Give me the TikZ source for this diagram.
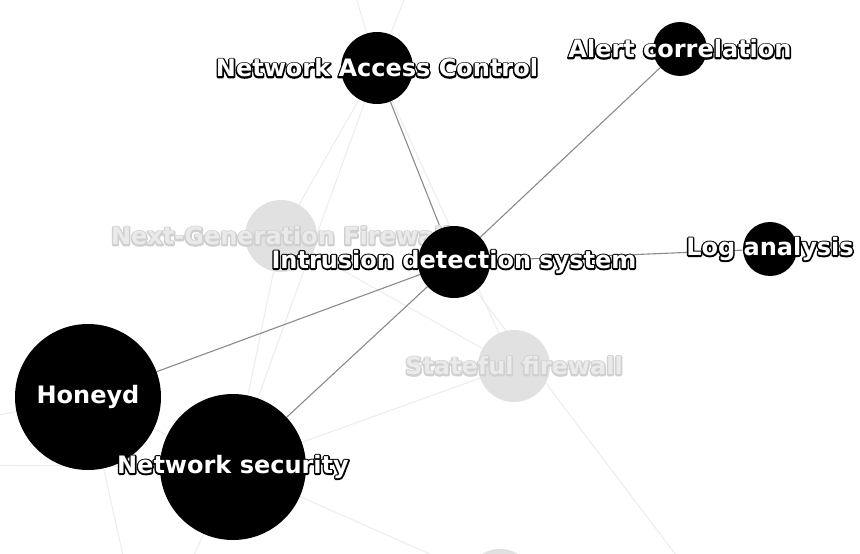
\documentclass[tikz,border=0pt]{standalone}
\usepackage{fontspec}
\setmainfont{DejaVu Sans}
\usetikzlibrary{positioning, backgrounds}
\definecolor{fadefill}{HTML}{E1E1E1}
\definecolor{fadetext}{HTML}{EAEAEA}
\definecolor{fadeline}{HTML}{D0D0D0}
\definecolor{faintedge}{HTML}{EDEDED}
\definecolor{darkedge}{HTML}{8A8A8A}
% outlined text: a stroked copy (render mode 1) under a filled one
\newcommand{\toplbl}[1]{\rlap{\special{pdf:code 0 G 3 w 1 j 1 Tr}#1\special{pdf:code 0 Tr}}{\color{white}#1}}
\newcommand{\fadelbl}[1]{\rlap{\special{pdf:code 0.816 G 3 w 1 j 1 Tr}#1\special{pdf:code 0 Tr}}{\color{fadetext}#1}}

\begin{document}
\begin{tikzpicture}[x=1pt, y=-1pt,
    bignode/.style={circle, fill=black, minimum size=146pt, inner sep=0pt},
    hubnode/.style={circle, fill=black, minimum size=72pt, inner sep=0pt},
    leafnode/.style={circle, fill=black, minimum size=54pt, inner sep=0pt},
    fadenode/.style={circle, fill=fadefill, minimum size=72pt, inner sep=0pt},
    lbl/.style={font=\fontsize{24}{26}\selectfont\bfseries, inner sep=0pt},
    link/.style={darkedge, line width=1.1pt},
    ghost/.style={faintedge, line width=1.1pt}]
  \useasboundingbox (0,0) rectangle (860,554);

  % faded neighbours first, so their labels sit underneath
  \node[fadenode, label={[lbl]center:\fadelbl{Next-Generation Firewall}}] (ngf) at (281,236) {};
  \node[fadenode, label={[lbl]center:\fadelbl{Stateful firewall}}] (sfw) at (514,366) {};
  \node[fadenode] (low) at (500,585) {};

  \node[hubnode, label={[lbl]center:\toplbl{Network Access Control}}] (nac) at (377,68) {};
  \node[leafnode, label={[lbl]center:\toplbl{Alert correlation}}] (alert) at (680,49) {};
  \node[hubnode, label={[lbl]center:\toplbl{Intrusion detection system}}] (ids) at (454,262) {};
  \node[leafnode, label={[lbl]center:\toplbl{Log analysis}}] (logs) at (770,249) {};
  \node[bignode, label={[lbl]center:\toplbl{Honeyd}}] (honeyd) at (88,397) {};
  \node[bignode, label={[lbl]center:\toplbl{Network security}}] (netsec) at (233,467) {};

  % neighbours outside the frame
  \coordinate (upleft) at (345,-40);
  \coordinate (upright) at (420,-40);
  \coordinate (downright) at (710,600);
  \coordinate (leftA) at (-40,465);
  \coordinate (leftB) at (-40,423);
  \coordinate (downA) at (135,610);
  \coordinate (downB) at (170,610);

  \begin{pgfonlayer}{background}
    \clip (0,0) rectangle (860,554);
    \draw[ghost] (nac) -- (upleft);
    \draw[ghost] (nac) -- (upright);
    \draw[ghost] (nac) -- (ngf);
    \draw[ghost] (nac) -- (netsec);
    \draw[ghost] (nac) -- (sfw);
    \draw[ghost] (ngf) -- (netsec);
    \draw[ghost] (ngf) -- (sfw);
    \draw[ghost] (netsec) -- (sfw);
    \draw[ghost] (netsec) -- (low);
    \draw[ghost] (netsec) -- (leftA);
    \draw[ghost] (netsec) -- (downB);
    \draw[ghost] (honeyd) -- (leftB);
    \draw[ghost] (honeyd) -- (downA);
    \draw[ghost] (honeyd) -- (netsec);
    \draw[ghost] (ids) -- (downright);
    % links of the selected node
    \draw[link] (ids) -- (nac);
    \draw[link] (ids) -- (alert);
    \draw[link] (ids) -- (logs);
    \draw[link] (ids) -- (honeyd);
    \draw[link] (ids) -- (netsec);
  \end{pgfonlayer}
\end{tikzpicture}
\end{document}
